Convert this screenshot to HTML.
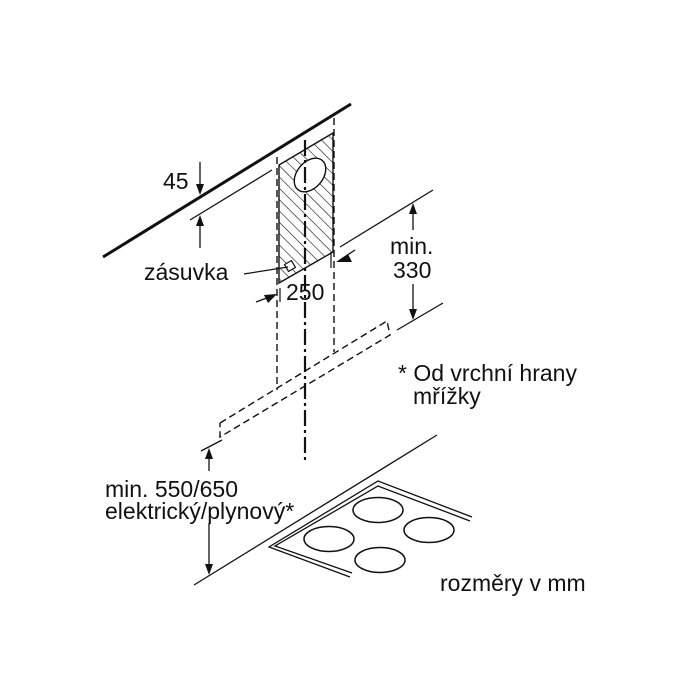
<!DOCTYPE html>
<html><head><meta charset="utf-8"><style>
html,body{margin:0;padding:0;background:#fff;}
svg{display:block;}
text{font-family:"Liberation Sans",Arial,sans-serif;fill:#111;font-size:23px;}
</style></head><body>
<svg width="700" height="700" viewBox="0 0 700 700" xmlns="http://www.w3.org/2000/svg">
<defs>
<pattern id="h" patternUnits="userSpaceOnUse" width="8" height="8" patternTransform="rotate(-45)">
<line x1="0" y1="0" x2="0" y2="8" stroke="#111" stroke-width="1.2"/>
</pattern>
</defs>
<g stroke="#111" fill="none">
<line x1="103" y1="257" x2="351" y2="104" stroke-width="3"/>
<line x1="190" y1="220" x2="272" y2="170" stroke-width="1.3"/>
<line x1="200" y1="162" x2="200" y2="188" stroke-width="1.3"/>
<line x1="200" y1="222" x2="200" y2="248" stroke-width="1.3"/>
<polygon points="279,165 333,133 333,252 279,283" fill="url(#h)" stroke-width="1.4"/>
<ellipse cx="310" cy="175" rx="13" ry="19" transform="rotate(40 310 175)" fill="#fff" stroke-width="1.4"/>
<rect x="286" y="262" width="8" height="8" transform="rotate(-30 290 266)" fill="#fff" stroke-width="1.2"/>
<line x1="244" y1="274" x2="288" y2="267" stroke-width="1.2"/>
<line x1="277" y1="157" x2="277" y2="390" stroke-width="1.4" stroke-dasharray="7,4"/>
<line x1="334" y1="118" x2="334" y2="352" stroke-width="1.4" stroke-dasharray="7,4"/>
<line x1="305" y1="140" x2="305" y2="462" stroke-width="2.2" stroke-dasharray="16,4,3,4"/>
<line x1="256" y1="302" x2="272" y2="296" stroke-width="1.3"/>
<line x1="355" y1="250" x2="340" y2="260" stroke-width="1.3"/>
<line x1="280" y1="288" x2="280" y2="302" stroke-width="1.2"/>
<line x1="331" y1="252" x2="331" y2="268" stroke-width="1.2"/>
<line x1="340" y1="247" x2="433" y2="190" stroke-width="1.3"/>
<line x1="397" y1="330" x2="443" y2="303" stroke-width="1.3"/>
<line x1="413" y1="210" x2="413" y2="230" stroke-width="1.3"/>
<line x1="413" y1="284" x2="413" y2="314" stroke-width="1.3"/>
<polyline points="220,423 387,321 390,335 220,437 220,423" stroke-width="1.4" stroke-dasharray="7,4"/>
<line x1="201" y1="451" x2="222" y2="440" stroke-width="1.3"/>
<line x1="209" y1="455" x2="209" y2="471" stroke-width="1.3"/>
<line x1="209" y1="523" x2="209" y2="568" stroke-width="1.3"/>
<line x1="194" y1="585" x2="437" y2="435" stroke-width="1.3"/>
<polyline points="350,577 269,547 378,481 472,517" stroke-width="1.3"/>
<polyline points="352,573 275,546 378,486 470,521" stroke-width="1.3"/>
<ellipse cx="378" cy="510" rx="25" ry="12.5" stroke-width="1.5"/>
<ellipse cx="329" cy="539" rx="25" ry="12.5" stroke-width="1.5"/>
<ellipse cx="429" cy="530" rx="25" ry="12.5" stroke-width="1.5"/>
<ellipse cx="380" cy="560" rx="25" ry="12.5" stroke-width="1.5"/>
</g>
<g fill="#111">
<polygon points="200,195 196,184 204,184"/>
<polygon points="200,215 196,226 204,226"/>
<polygon points="277,294 264,295 268,303"/>
<polygon points="336,262 348,254 352,262"/>
<polygon points="413,203 409,214 417,214"/>
<polygon points="413,320 409,309 417,309"/>
<polygon points="209,448 205,459 213,459"/>
<polygon points="209,575 205,564 213,564"/>
</g>
<text x="163" y="189">45</text>
<text x="144" y="280">zásuvka</text>
<text x="286" y="300">250</text>
<text x="390" y="254">min.</text>
<text x="393" y="278">330</text>
<text x="398" y="381">* Od vrchní hrany</text>
<text x="413" y="404">mřížky</text>
<text x="105" y="497">min. 550/650</text>
<text x="105" y="519">elektrický/plynový*</text>
<text x="440" y="591">rozměry v mm</text>
</svg>
</body></html>
